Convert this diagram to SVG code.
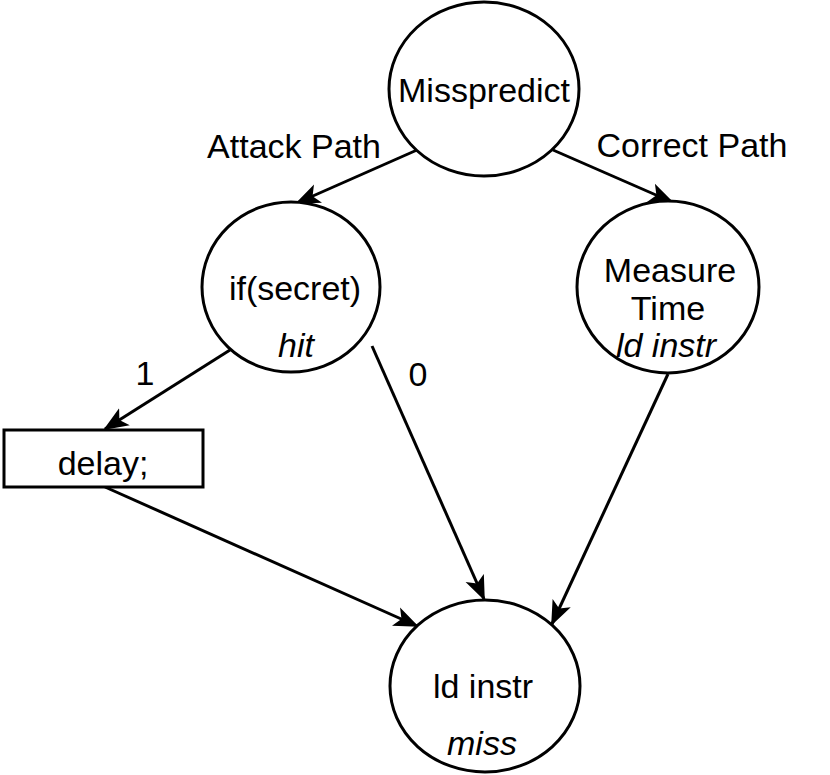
<svg xmlns="http://www.w3.org/2000/svg" width="830" height="775" viewBox="0 0 830 775">
<style>
.n{fill:#fff;stroke:#000;stroke-width:3}
.t{font-family:"Liberation Sans",Arial,sans-serif;font-size:34px;fill:#000;text-anchor:middle}
.i{font-style:italic}
.e{stroke:#000;stroke-width:3;fill:none;marker-end:url(#arr)}
</style>
<defs>
<marker id="arr" markerUnits="userSpaceOnUse" markerWidth="26" markerHeight="22" viewBox="0 0 26 22" refX="23" refY="11" orient="auto">
<path d="M25,11 L0,1 L6,11 L0,21 Z" fill="#000"/>
</marker>
</defs>
<rect width="830" height="775" fill="#fff"/>
<g id="edges">
<path class="e" d="M417,150 L297,203"/>
<path class="e" d="M553,150 L672,202"/>
<path class="e" d="M230,350 L105,429"/>
<path class="e" d="M372,346 L484,599"/>
<path class="e" d="M105,487 L417,626"/>
<path class="e" d="M668,374 L552,624"/>
</g>
<g id="labels">
<text class="t" x="294" y="158">Attack Path</text>
<text class="t" x="692" y="157">Correct Path</text>
<text class="t" x="145" y="385">1</text>
<text class="t" x="418" y="386">0</text>
</g>
<g id="misspredict">
<ellipse class="n" cx="484" cy="89" rx="95" ry="87"/>
<text class="t" x="484" y="102">Misspredict</text>
</g>
<g id="ifsecret">
<ellipse class="n" cx="291" cy="287" rx="89" ry="85"/>
<text class="t" x="295" y="300">if(secret)</text>
<text class="t i" x="296" y="357">hit</text>
</g>
<g id="measure">
<ellipse class="n" cx="668" cy="287" rx="91" ry="86"/>
<text class="t" x="670" y="282">Measure</text>
<text class="t" x="668" y="320">Time</text>
<text class="t i" x="666" y="357">ld instr</text>
</g>
<g id="delay">
<rect class="n" x="4" y="430" width="199" height="57"/>
<text class="t" x="103" y="475">delay;</text>
</g>
<g id="ldinstr">
<ellipse class="n" cx="485" cy="686" rx="95" ry="86"/>
<text class="t" x="483" y="698">ld instr</text>
<text class="t i" x="482" y="755">miss</text>
</g>
</svg>
